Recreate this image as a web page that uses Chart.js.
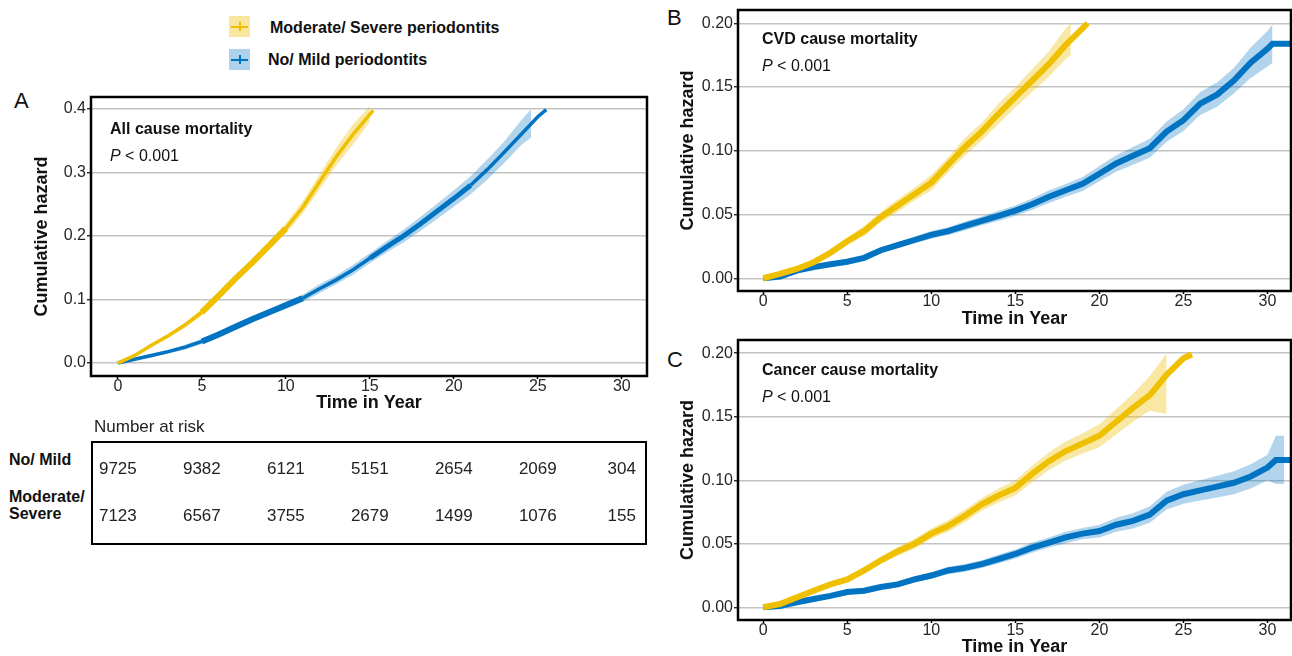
<!DOCTYPE html>
<html><head><meta charset="utf-8">
<script src="https://cdn.jsdelivr.net/npm/chart.js@4.4.1/dist/chart.umd.min.js"></script>
<style>
html,body{margin:0;padding:0;background:#fff}
body{width:1292px;height:656px;position:relative;overflow:hidden;font-family:"Liberation Sans",Arial,sans-serif;color:#111}
.abs{position:absolute}
canvas{position:absolute;left:0;top:0}
.key{position:absolute;width:21px;height:21px}
.kh{position:absolute;left:2px;right:2px;top:9.5px;height:2px}
.kv{position:absolute;left:9.5px;top:6px;width:2px;height:9px}
.leg{position:absolute;font-weight:bold;font-size:16px;line-height:16px;transform:translateY(-50%);white-space:nowrap}
.num{position:absolute;font-size:17px;line-height:17px;transform:translate(-50%,-50%);white-space:nowrap;color:#222}
.rl{position:absolute;font-weight:bold;font-size:16px;line-height:17px;white-space:nowrap}
.letter{position:absolute;font-size:22px;line-height:22px;transform:translateY(-50%)}
</style></head><body>

<div class="letter" style="left:14px;top:101px">A</div>
<div class="letter" style="left:667px;top:18px">B</div>
<div class="letter" style="left:667px;top:360px">C</div>

<div class="key" style="left:229px;top:16px;background:rgba(239,192,0,0.38)"><div class="kh" style="background:#EFC000"></div><div class="kv" style="background:#EFC000"></div></div>
<div class="leg" style="left:270px;top:28px">Moderate/ Severe periodontits</div>
<div class="key" style="left:229px;top:49px;background:rgba(0,115,194,0.32)"><div class="kh" style="background:#0073C2"></div><div class="kv" style="background:#0073C2"></div></div>
<div class="leg" style="left:268px;top:60px">No/ Mild periodontits</div>

<div class="abs" style="left:0;top:80px;width:660px;height:340px"><canvas id="cA" width="660" height="340"></canvas></div>
<div class="abs" style="left:660px;top:0;width:632px;height:330px"><canvas id="cB" width="632" height="330"></canvas></div>
<div class="abs" style="left:660px;top:330px;width:632px;height:326px"><canvas id="cC" width="632" height="326"></canvas></div>

<div class="abs" style="left:94px;top:418px;font-size:17px;line-height:17px;color:#222">Number at risk</div>
<div class="abs" style="left:91px;top:441px;width:552px;height:100px;border:2px solid #000"></div>
<div class="rl" style="left:9px;top:451px">No/ Mild</div>
<div class="rl" style="left:9px;top:488px">Moderate/<br>Severe</div>
<div id="risk"></div>

<script>
// ---------- categories / tick labels ----------
const X_TICKS = [0, 5, 10, 15, 20, 25, 30];
const Y_TICKS_A = [0, 0.1, 0.2, 0.3, 0.4];
const Y_LABELS_A = ["0.0", "0.1", "0.2", "0.3", "0.4"];
const Y_TICKS_BC = [0, 0.05, 0.10, 0.15, 0.20];
const Y_LABELS_BC = ["0.00", "0.05", "0.10", "0.15", "0.20"];

// ---------- number at risk ----------
const RISK_T = [0, 5, 10, 15, 20, 25, 30];
const RISK_NO = [9725, 9382, 6121, 5151, 2654, 2069, 304];
const RISK_MOD = [7123, 6567, 3755, 2679, 1499, 1076, 155];

// ---------- Panel A: all cause ----------
const tA_mod = [0,1,2,3,4,5,6,7,8,9,10,11,12,13,14,15.2];
const hA_mod = [0,0.012,0.028,0.043,0.060,0.080,0.106,0.133,0.158,0.185,0.212,0.245,0.285,0.325,0.360,0.398];
const bA_modT = [0,1,2,3,4,5,6,7,8,9,10,11,12,13,14,15];
const loA_mod = [0,0.010,0.025,0.040,0.056,0.075,0.101,0.127,0.152,0.178,0.204,0.235,0.273,0.311,0.344,0.380];
const hiA_mod = [0,0.014,0.031,0.046,0.064,0.085,0.111,0.139,0.164,0.192,0.220,0.255,0.297,0.339,0.376,0.405];

const tA_no = [0,1,2,3,4,5,6,7,8,9,10,11,12,13,14,15,16,17,18,19,20,21,22,23,24,25,25.5];
const hA_no = [0,0.006,0.012,0.018,0.025,0.034,0.045,0.057,0.069,0.080,0.091,0.102,0.117,0.131,0.147,0.165,0.183,0.200,0.219,0.239,0.259,0.280,0.305,0.332,0.360,0.388,0.399];
const bA_noT = [0,1,2,3,4,5,6,7,8,9,10,11,12,13,14,15,16,17,18,19,20,21,22,23,24,24.6];
const loA_no = [0,0.004,0.009,0.015,0.021,0.030,0.041,0.052,0.064,0.075,0.085,0.096,0.110,0.124,0.139,0.157,0.174,0.190,0.208,0.227,0.246,0.266,0.289,0.315,0.343,0.355];
const hiA_no = [0,0.008,0.015,0.021,0.029,0.038,0.049,0.062,0.074,0.085,0.097,0.108,0.124,0.138,0.155,0.173,0.192,0.210,0.230,0.251,0.272,0.294,0.321,0.349,0.382,0.400];

// ---------- Panel B: CVD ----------
const tB_mod = [0,1,2,3,4,5,6,7,8,9,10,11,12,13,14,15,16,17,18,19,19.3];
const hB_mod = [0,0.0034,0.0073,0.0126,0.020,0.029,0.037,0.048,0.057,0.066,0.075,0.089,0.103,0.115,0.129,0.142,0.155,0.168,0.183,0.196,0.200];
const bB_modT = [0,1,2,3,4,5,6,7,8,9,10,11,12,13,14,15,16,17,18,18.3];
const loB_mod = [0,0.0024,0.0053,0.0106,0.017,0.026,0.033,0.044,0.052,0.061,0.069,0.083,0.096,0.108,0.121,0.134,0.146,0.158,0.172,0.175];
const hiB_mod = [0,0.0044,0.0093,0.0146,0.023,0.032,0.041,0.052,0.062,0.071,0.081,0.095,0.110,0.122,0.137,0.150,0.164,0.178,0.196,0.200];

const tB_no = [0,1,2,3,4,5,6,7,8,9,10,11,12,13,14,15,16,17,18,19,20,21,22,23,24,25,26,27,28,29,30,30.3,31.5];
const hB_no = [0,0.0013,0.006,0.0087,0.011,0.013,0.016,0.022,0.026,0.030,0.034,0.037,0.041,0.045,0.049,0.053,0.058,0.064,0.069,0.074,0.082,0.090,0.096,0.102,0.115,0.124,0.137,0.144,0.155,0.169,0.180,0.184,0.184];
const bB_noT = [0,1,2,3,4,5,6,7,8,9,10,11,12,13,14,15,16,17,18,19,20,21,22,23,24,25,26,27,28,29,30,30.3];
const loB_no = [0,0.0008,0.005,0.0077,0.0095,0.0115,0.014,0.020,0.0235,0.0275,0.031,0.034,0.0375,0.0415,0.045,0.049,0.0535,0.059,0.064,0.0685,0.076,0.0835,0.089,0.0945,0.107,0.1155,0.128,0.1345,0.145,0.157,0.166,0.169];
const hiB_no = [0,0.0018,0.007,0.0097,0.0125,0.0145,0.018,0.024,0.0285,0.0325,0.037,0.040,0.0445,0.0485,0.053,0.057,0.0625,0.069,0.074,0.0795,0.088,0.0965,0.103,0.1095,0.123,0.1325,0.146,0.1535,0.165,0.181,0.194,0.199];

// ---------- Panel C: cancer ----------
const tC_mod = [0,1,2,3,4,5,6,7,8,9,10,11,12,13,14,15,16,17,18,19,20,21,22,23,24,25,25.5];
const hC_mod = [0,0.0026,0.0078,0.013,0.018,0.022,0.029,0.037,0.044,0.050,0.058,0.064,0.072,0.081,0.088,0.094,0.105,0.115,0.123,0.129,0.135,0.146,0.157,0.167,0.183,0.196,0.199];
const bC_modT = [0,1,2,3,4,5,6,7,8,9,10,11,12,13,14,15,16,17,18,19,20,21,22,23,24];
const loC_mod = [0,0.0016,0.0063,0.011,0.016,0.0195,0.026,0.034,0.0405,0.046,0.054,0.0595,0.067,0.076,0.0825,0.088,0.0985,0.108,0.1155,0.121,0.126,0.136,0.146,0.155,0.152];
const hiC_mod = [0,0.0036,0.0093,0.015,0.020,0.0245,0.032,0.040,0.0475,0.054,0.062,0.0685,0.077,0.086,0.0935,0.100,0.1115,0.122,0.1305,0.137,0.144,0.156,0.168,0.182,0.200];

const tC_no = [0,1,2,3,4,5,6,7,8,9,10,11,12,13,14,15,16,17,18,19,20,21,22,23,24,25,26,27,28,29,30,30.5,31.5];
const hC_no = [0,0.001,0.004,0.0065,0.009,0.012,0.013,0.016,0.018,0.022,0.025,0.029,0.031,0.034,0.038,0.042,0.047,0.051,0.055,0.058,0.060,0.065,0.068,0.073,0.084,0.089,0.092,0.095,0.098,0.103,0.110,0.116,0.116];
const bC_noT = [0,1,2,3,4,5,6,7,8,9,10,11,12,13,14,15,16,17,18,19,20,21,22,23,24,25,26,27,28,29,30,30.5,31];
const loC_no = [0,0.0005,0.003,0.0055,0.0075,0.0105,0.011,0.014,0.016,0.0195,0.0225,0.026,0.028,0.031,0.0345,0.0385,0.043,0.047,0.0505,0.0535,0.055,0.0595,0.062,0.0665,0.077,0.0815,0.084,0.0865,0.089,0.0935,0.100,0.097,0.097];
const hiC_no = [0,0.0015,0.005,0.0075,0.0105,0.0135,0.015,0.018,0.020,0.0245,0.0275,0.032,0.034,0.037,0.0415,0.0455,0.051,0.055,0.0595,0.0625,0.065,0.0705,0.074,0.0795,0.091,0.0965,0.100,0.1035,0.107,0.1125,0.120,0.135,0.135];

// ---------- styling ----------
const YEL = '#EFC000', BLU = '#0073C2';
const YBAND = 'rgba(239,192,0,0.36)', BBAND = 'rgba(0,115,194,0.30)';
const FONT = '"Liberation Sans", Arial, sans-serif';

const pts = (t, v) => t.map((x, i) => ({x: x, y: v[i]}));

const boxPlugin = {
  id: 'boxPlugin',
  afterDatasetsDraw(chart) {
    const a = chart.chartArea, c = chart.ctx;
    c.save(); c.strokeStyle = '#000'; c.lineWidth = 2.5;
    c.strokeRect(a.left, a.top, a.right - a.left, a.bottom - a.top);
    c.restore();
  }
};
const textPlugin = {
  id: 'panelText',
  afterDraw(chart, args, o) {
    const a = chart.chartArea, c = chart.ctx;
    c.save();
    c.fillStyle = '#111'; c.textBaseline = 'middle'; c.textAlign = 'left';
    c.font = 'bold 16px ' + FONT;
    c.fillText(o.title, a.left + o.dx, a.top + o.dy1);
    c.font = 'italic 16px ' + FONT;
    c.fillText('P', a.left + o.dx, a.top + o.dy2);
    const w = c.measureText('P').width;
    c.font = '16px ' + FONT;
    c.fillText(' < 0.001', a.left + o.dx + w, a.top + o.dy2);
    c.restore();
  }
};

function makeChart(id, o) {
  return new Chart(document.getElementById(id), {
    type: 'line',
    data: { datasets: [
      {label: 'mod lo', data: pts(o.bModT, o.loMod), borderWidth: 0, pointRadius: 0, fill: false, order: 3},
      {label: 'mod hi', data: pts(o.bModT, o.hiMod), borderWidth: 0, pointRadius: 0, fill: '-1', backgroundColor: YBAND, order: 3},
      {label: 'no lo', data: pts(o.bNoT, o.loNo), borderWidth: 0, pointRadius: 0, fill: false, order: 2},
      {label: 'no hi', data: pts(o.bNoT, o.hiNo), borderWidth: 0, pointRadius: 0, fill: '-1', backgroundColor: BBAND, order: 2},
      {label: 'Moderate/ Severe periodontits', data: pts(o.tMod, o.hMod), borderColor: YEL, borderWidth: o.lw, pointRadius: 0, fill: false, order: 0,
        segment: o.segMod ? {borderWidth: o.segMod} : undefined},
      {label: 'No/ Mild periodontits', data: pts(o.tNo, o.hNo), borderColor: BLU, borderWidth: o.lw, pointRadius: 0, fill: false, order: 1,
        segment: o.segNo ? {borderWidth: o.segNo} : undefined}
    ]},
    options: {
      responsive: false, animation: false, devicePixelRatio: 1,
      layout: {padding: {left: 0, right: o.padR, top: o.padT, bottom: 0}},
      plugins: {legend: {display: false}, tooltip: {enabled: false},
        panelText: {title: o.title, dx: o.tdx, dy1: o.tdy1, dy2: o.tdy2}},
      scales: {
        x: {
          type: 'linear', min: o.xMin, max: o.xMax,
          afterFit(s) { s.height = o.xH; },
          afterBuildTicks(s) { s.ticks = X_TICKS.map(v => ({value: v})); },
          ticks: {font: {family: FONT, size: 16, lineHeight: 1}, color: '#262626', padding: 0, maxRotation: 0,
            callback: (v, i) => String(X_TICKS[i])},
          grid: {drawOnChartArea: false, drawTicks: true, tickLength: 3, tickColor: '#000', tickWidth: 1.5},
          border: {display: false},
          title: {display: true, text: 'Time in Year', color: '#111',
            font: {family: FONT, size: 18, weight: 'bold', lineHeight: 1}, padding: {top: 0, bottom: o.xtPad}}
        },
        y: {
          min: o.yMin, max: o.yMax,
          afterFit(s) { s.width = o.yW; },
          afterBuildTicks(s) { s.ticks = o.yTicks.map(v => ({value: v})); },
          ticks: {font: {family: FONT, size: 16, lineHeight: 1}, color: '#262626', padding: 1,
            callback: (v, i) => o.yLabels[i]},
          grid: {color: '#c4c4c4', lineWidth: 1.5, drawTicks: true, tickLength: 4, tickColor: '#000', tickWidth: 1.2},
          border: {display: false},
          title: {display: true, text: 'Cumulative hazard', color: '#111',
            font: {family: FONT, size: 18, weight: 'bold', lineHeight: 1}, padding: {top: o.ytPad, bottom: 0}}
        }
      }
    },
    plugins: [boxPlugin, textPlugin]
  });
}

const chartA = makeChart('cA', {
  tMod: tA_mod, hMod: hA_mod, bModT: bA_modT, loMod: loA_mod, hiMod: hiA_mod,
  tNo: tA_no, hNo: hA_no, bNoT: bA_noT, loNo: loA_no, hiNo: hiA_no,
  lw: 3.5,
  segMod: c => (c.p0.parsed.x >= 5 && c.p0.parsed.x < 10) ? 6 : 3.5,
  segNo: c => (c.p0.parsed.x >= 5 && c.p0.parsed.x < 11) ? 6 : ((c.p0.parsed.x >= 15 && c.p0.parsed.x < 21) ? 5 : 3.5),
  xMin: -1.6, xMax: 31.5, yMin: -0.0204, yMax: 0.419,
  yTicks: Y_TICKS_A, yLabels: Y_LABELS_A,
  padR: 13, padT: 17, xH: 44, yW: 91, xtPad: 8, ytPad: 33,
  title: 'All cause mortality', tdx: 19, tdy1: 33, tdy2: 60
});
const chartB = makeChart('cB', {
  tMod: tB_mod, hMod: hB_mod, bModT: bB_modT, loMod: loB_mod, hiMod: hiB_mod,
  tNo: tB_no, hNo: hB_no, bNoT: bB_noT, loNo: loB_no, hiNo: hiB_no,
  lw: 6,
  xMin: -1.5, xMax: 31.4, yMin: -0.01, yMax: 0.2104,
  yTicks: Y_TICKS_BC, yLabels: Y_LABELS_BC,
  padR: 1, padT: 10, xH: 39, yW: 78, xtPad: 2, ytPad: 19,
  title: 'CVD cause mortality', tdx: 24, tdy1: 30, tdy2: 57
});
const chartC = makeChart('cC', {
  tMod: tC_mod, hMod: hC_mod, bModT: bC_modT, loMod: loC_mod, hiMod: hiC_mod,
  tNo: tC_no, hNo: hC_no, bNoT: bC_noT, loNo: loC_no, hiNo: hiC_no,
  lw: 6,
  xMin: -1.5, xMax: 31.4, yMin: -0.01, yMax: 0.2104,
  yTicks: Y_TICKS_BC, yLabels: Y_LABELS_BC,
  padR: 1, padT: 10, xH: 36, yW: 78, xtPad: 0, ytPad: 19,
  title: 'Cancer cause mortality', tdx: 24, tdy1: 31, tdy2: 58
});

// risk table numbers positioned on panel A's x scale
const risk = document.getElementById('risk');
RISK_T.forEach((t, i) => {
  const px = chartA.scales.x.getPixelForValue(t);
  [[RISK_NO[i], 468], [RISK_MOD[i], 515]].forEach(([v, y]) => {
    const d = document.createElement('div');
    d.className = 'num'; d.textContent = v;
    d.style.left = px + 'px'; d.style.top = y + 'px';
    risk.appendChild(d);
  });
});
</script>
</body></html>
